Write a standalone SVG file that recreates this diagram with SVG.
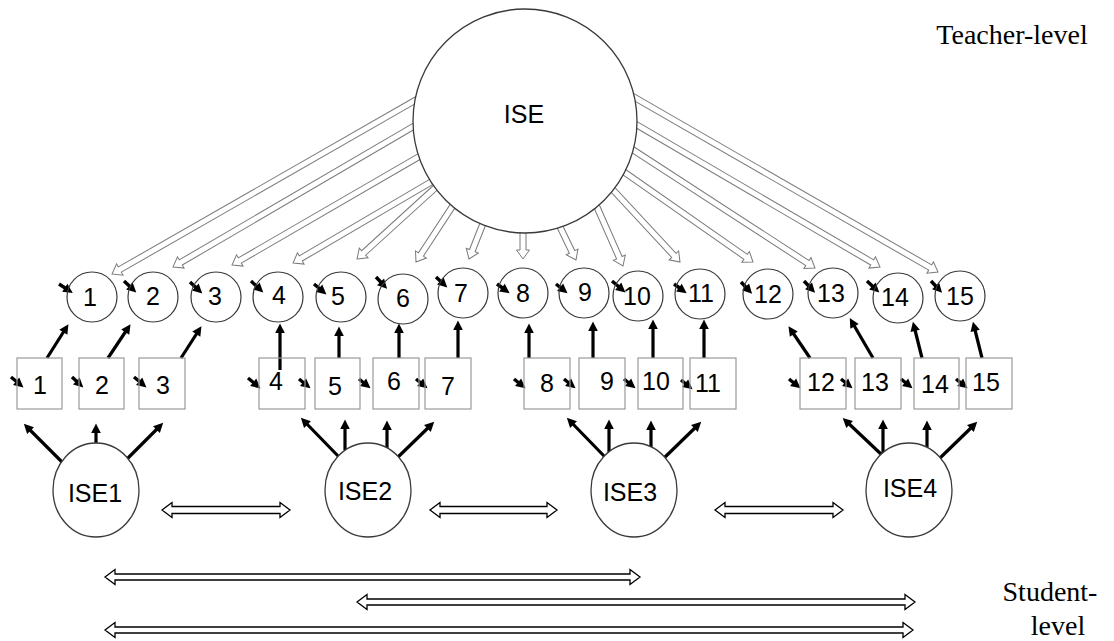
<svg xmlns="http://www.w3.org/2000/svg" width="1114" height="641" viewBox="0 0 1114 641">
  <style>
    .lbl { font-family: "Liberation Sans", Arial, sans-serif; font-size: 25px; fill: #000; text-anchor: middle; }
    .lvl { font-family: "Liberation Serif", "Times New Roman", serif; font-size: 28px; fill: #000; text-anchor: middle; }
    .circ { fill: none; stroke: #3a3a3a; stroke-width: 1.2; }
    .box { fill: none; stroke: #9a9a9a; stroke-width: 1.2; }
    .lat { fill: #fff; stroke: #3a3a3a; stroke-width: 1.3; }
    .blk { stroke: #000; stroke-width: 3.2; fill: none; marker-end: url(#ah); }
    .res { stroke: #000; stroke-width: 3.4; fill: none; marker-end: url(#ah); }
    .hol { fill: #fff; stroke: #7a7a7a; stroke-width: 1; }
    .dbl { fill: #fff; stroke: #000; stroke-width: 1.3; }
  </style>
  <defs>
    <marker id="ah" markerUnits="userSpaceOnUse" viewBox="-7 -7 14 14" markerWidth="14" markerHeight="14" refX="0" refY="0" orient="auto" overflow="visible">
      <path d="M-5,-4.8 L4.5,0 L-5,4.8 Z" fill="#000"/>
    </marker>
  </defs>
  <rect width="1114" height="641" fill="#fff"/>

  <!-- connectors -->
  <g id="connectors">
    <!-- teacher-level loadings: hollow block arrows -->
    <g id="teacher-loadings">
      <path class="hol" transform="translate(112,274) rotate(150.2)" d="M0,0 L-9,-6.5 L-9,-3 L-356,-3 L-356,3 L-9,3 L-9,6.5 Z"/>
      <path class="hol" transform="translate(173,267) rotate(149.7)" d="M0,0 L-9,-6.5 L-9,-3 L-284,-3 L-284,3 L-9,3 L-9,6.5 Z"/>
      <path class="hol" transform="translate(232,265) rotate(149.9)" d="M0,0 L-9,-6.5 L-9,-3 L-221,-3 L-221,3 L-9,3 L-9,6.5 Z"/>
      <path class="hol" transform="translate(293,263) rotate(149.6)" d="M0,0 L-9,-6.5 L-9,-3 L-166,-3 L-166,3 L-9,3 L-9,6.5 Z"/>
      <path class="hol" transform="translate(357,259) rotate(137.7)" d="M0,0 L-9,-6.5 L-9,-3 L-111,-3 L-111,3 L-9,3 L-9,6.5 Z"/>
      <path class="hol" transform="translate(416,262) rotate(123.2)" d="M0,0 L-9,-6.5 L-9,-3 L-72,-3 L-72,3 L-9,3 L-9,6.5 Z"/>
      <path class="hol" transform="translate(469,259) rotate(111.5)" d="M0,0 L-9,-6.5 L-9,-3 L-41,-3 L-41,3 L-9,3 L-9,6.5 Z"/>
      <path class="hol" transform="translate(523,259) rotate(90)" d="M0,0 L-9,-6.5 L-9,-3 L-32,-3 L-32,3 L-9,3 L-9,6.5 Z"/>
      <path class="hol" transform="translate(576,260) rotate(64.2)" d="M0,0 L-9,-6.5 L-9,-3 L-40,-3 L-40,3 L-9,3 L-9,6.5 Z"/>
      <path class="hol" transform="translate(623,266) rotate(66.2)" d="M0,0 L-9,-6.5 L-9,-3 L-70,-3 L-70,3 L-9,3 L-9,6.5 Z"/>
      <path class="hol" transform="translate(680,262) rotate(47.1)" d="M0,0 L-9,-6.5 L-9,-3 L-104,-3 L-104,3 L-9,3 L-9,6.5 Z"/>
      <path class="hol" transform="translate(753,262) rotate(34.9)" d="M0,0 L-9,-6.5 L-9,-3 L-163,-3 L-163,3 L-9,3 L-9,6.5 Z"/>
      <path class="hol" transform="translate(815,268) rotate(33.0)" d="M0,0 L-9,-6.5 L-9,-3 L-223,-3 L-223,3 L-9,3 L-9,6.5 Z"/>
      <path class="hol" transform="translate(880,267) rotate(30.3)" d="M0,0 L-9,-6.5 L-9,-3 L-288,-3 L-288,3 L-9,3 L-9,6.5 Z"/>
      <path class="hol" transform="translate(938,272) rotate(29.9)" d="M0,0 L-9,-6.5 L-9,-3 L-355,-3 L-355,3 L-9,3 L-9,6.5 Z"/>
    </g>

    <!-- residual arrows on teacher-level indicators -->
    <g id="teacher-residuals">
      <line class="res" x1="59" y1="284" x2="69" y2="290.5"/>
      <line class="res" x1="124" y1="281" x2="133" y2="289.5"/>
      <line class="res" x1="190" y1="282" x2="199" y2="290.5"/>
      <line class="res" x1="251" y1="281" x2="260" y2="289.5"/>
      <line class="res" x1="314" y1="284" x2="323" y2="291.5"/>
      <line class="res" x1="376" y1="277" x2="384" y2="285.5"/>
      <line class="res" x1="436" y1="277" x2="444" y2="284.5"/>
      <line class="res" x1="497" y1="284" x2="506" y2="290.5"/>
      <line class="res" x1="556" y1="284" x2="564" y2="290.5"/>
      <line class="res" x1="612" y1="281" x2="622" y2="289.5"/>
      <line class="res" x1="674" y1="284" x2="683" y2="290.5"/>
      <line class="res" x1="741" y1="282" x2="749" y2="290.5"/>
      <line class="res" x1="804" y1="281" x2="812" y2="289.5"/>
      <line class="res" x1="867" y1="281" x2="876" y2="289.5"/>
      <line class="res" x1="931" y1="281" x2="939" y2="289.5"/>
    </g>

    <!-- item to teacher-level indicator -->
    <g id="item-links">
      <line class="blk" x1="47" y1="358" x2="66" y2="328"/>
      <line class="blk" x1="108" y1="358" x2="128" y2="328"/>
      <line class="blk" x1="181" y1="358" x2="199" y2="330"/>
      <line class="blk" x1="280" y1="370" x2="280" y2="328"/>
      <line class="blk" x1="339" y1="358" x2="339" y2="331"/>
      <line class="blk" x1="399" y1="358" x2="399" y2="328"/>
      <line class="blk" x1="458" y1="358" x2="458" y2="325"/>
      <line class="blk" x1="529" y1="358" x2="529" y2="328"/>
      <line class="blk" x1="593" y1="358" x2="593" y2="326"/>
      <line class="blk" x1="653" y1="358" x2="653" y2="324"/>
      <line class="blk" x1="704" y1="358" x2="704" y2="324"/>
      <line class="blk" x1="810" y1="358" x2="791" y2="330"/>
      <line class="blk" x1="873" y1="358" x2="852" y2="322"/>
      <line class="blk" x1="922" y1="358" x2="914" y2="326"/>
      <line class="blk" x1="982" y1="358" x2="974" y2="326"/>
    </g>

    <!-- residual arrows on items -->
    <g id="item-residuals">
      <line class="res" x1="11" y1="377" x2="20" y2="384.5"/>
      <line class="res" x1="72" y1="377" x2="80" y2="384.5"/>
      <line class="res" x1="134" y1="377" x2="143" y2="384.5"/>
      <line class="res" x1="248" y1="378" x2="257" y2="385.5"/>
      <line class="res" x1="299" y1="379" x2="307" y2="385.5"/>
      <line class="res" x1="359" y1="379" x2="367" y2="385.5"/>
      <line class="res" x1="416" y1="379" x2="424" y2="385.5"/>
      <line class="res" x1="514" y1="379" x2="522" y2="385.5"/>
      <line class="res" x1="564" y1="379" x2="572" y2="385.5"/>
      <line class="res" x1="624" y1="379" x2="632" y2="385.5"/>
      <line class="res" x1="681" y1="380" x2="689" y2="386.5"/>
      <line class="res" x1="789" y1="379" x2="797" y2="385.5"/>
      <line class="res" x1="841" y1="379" x2="849" y2="385.5"/>
      <line class="res" x1="901" y1="379" x2="909" y2="385.5"/>
      <line class="res" x1="956" y1="379" x2="964" y2="385.5"/>
    </g>

    <!-- student-level factor loadings -->
    <g id="factor-loadings">
      <line class="blk" x1="63" y1="463" x2="27" y2="427"/>
      <line class="blk" x1="96" y1="443" x2="96" y2="428"/>
      <line class="blk" x1="127" y1="459" x2="160" y2="426"/>

      <line class="blk" x1="339" y1="457" x2="304" y2="421"/>
      <line class="blk" x1="345" y1="450" x2="345" y2="424"/>
      <line class="blk" x1="387" y1="448" x2="387" y2="425"/>
      <line class="blk" x1="397" y1="458" x2="431" y2="425"/>

      <line class="blk" x1="605" y1="457" x2="570" y2="421"/>
      <line class="blk" x1="609" y1="453" x2="609" y2="424"/>
      <line class="blk" x1="651" y1="450" x2="651" y2="425"/>
      <line class="blk" x1="663" y1="459" x2="698" y2="425"/>

      <line class="blk" x1="882" y1="455" x2="846" y2="421"/>
      <line class="blk" x1="883" y1="453" x2="883" y2="424"/>
      <line class="blk" x1="927" y1="447" x2="927" y2="425"/>
      <line class="blk" x1="940" y1="458" x2="974" y2="425"/>
    </g>

    <!-- factor covariances: hollow double-headed arrows -->
    <g id="covariances">
      <path class="dbl" d="M162,510 L172,502.5 L172,506.5 L280,506.5 L280,502.5 L290,510 L280,517.5 L280,513.5 L172,513.5 L172,517.5 Z"/>
      <path class="dbl" d="M430,510 L440,502.5 L440,506.5 L547,506.5 L547,502.5 L557,510 L547,517.5 L547,513.5 L440,513.5 L440,517.5 Z"/>
      <path class="dbl" d="M715,510 L725,502.5 L725,506.5 L833,506.5 L833,502.5 L843,510 L833,517.5 L833,513.5 L725,513.5 L725,517.5 Z"/>
      <path class="dbl" d="M105,577 L115,569.5 L115,574 L630,574 L630,569.5 L640,577 L630,584.5 L630,580 L115,580 L115,584.5 Z"/>
      <path class="dbl" d="M357,602 L367,594.5 L367,599 L905,599 L905,594.5 L915,602 L905,609.5 L905,605 L367,605 L367,609.5 Z"/>
      <path class="dbl" d="M105,630 L115,622.5 L115,627 L903,627 L903,622.5 L913,630 L903,637.5 L903,633 L115,633 L115,637.5 Z"/>
    </g>
  </g>

  <!-- teacher-level factor -->
  <g id="ISE">
    <circle class="lat" cx="525" cy="121" r="112"/>
    <text class="lbl" x="524" y="123">ISE</text>
  </g>

  <!-- teacher-level indicators -->
  <g id="t1"><circle class="circ" cx="92" cy="297" r="25"/><text class="lbl" x="90" y="306">1</text></g>
  <g id="t2"><circle class="circ" cx="153" cy="297" r="25"/><text class="lbl" x="153" y="305">2</text></g>
  <g id="t3"><circle class="circ" cx="216" cy="297" r="25"/><text class="lbl" x="215" y="305">3</text></g>
  <g id="t4"><circle class="circ" cx="278" cy="297" r="25"/><text class="lbl" x="279" y="304">4</text></g>
  <g id="t5"><circle class="circ" cx="341" cy="297" r="25"/><text class="lbl" x="338" y="305">5</text></g>
  <g id="t6"><circle class="circ" cx="403" cy="299" r="25"/><text class="lbl" x="403" y="307">6</text></g>
  <g id="t7"><circle class="circ" cx="463" cy="293" r="25"/><text class="lbl" x="461" y="302">7</text></g>
  <g id="t8"><circle class="circ" cx="523" cy="293" r="25"/><text class="lbl" x="523" y="302">8</text></g>
  <g id="t9"><circle class="circ" cx="584" cy="293" r="25"/><text class="lbl" x="585" y="301">9</text></g>
  <g id="t10"><circle class="circ" cx="638" cy="296" r="25"/><text class="lbl" x="637" y="305">10</text></g>
  <g id="t11"><circle class="circ" cx="700" cy="294" r="25"/><text class="lbl" x="701" y="302">11</text></g>
  <g id="t12"><circle class="circ" cx="768" cy="294" r="25"/><text class="lbl" x="768" y="303">12</text></g>
  <g id="t13"><circle class="circ" cx="833" cy="293" r="25"/><text class="lbl" x="831" y="302">13</text></g>
  <g id="t14"><circle class="circ" cx="898" cy="298" r="25"/><text class="lbl" x="895" y="306">14</text></g>
  <g id="t15"><circle class="circ" cx="960" cy="296" r="25"/><text class="lbl" x="960" y="305">15</text></g>

  <!-- student-level items -->
  <g id="i1"><rect class="box" x="17" y="358" width="45" height="51"/><text class="lbl" x="40" y="394">1</text></g>
  <g id="i2"><rect class="box" x="79" y="358" width="45" height="51"/><text class="lbl" x="102" y="394">2</text></g>
  <g id="i3"><rect class="box" x="139" y="358" width="46" height="51"/><text class="lbl" x="163" y="394">3</text></g>
  <g id="i4"><rect class="box" x="259" y="358" width="46" height="51"/><text class="lbl" x="276" y="390">4</text></g>
  <g id="i5"><rect class="box" x="315" y="358" width="45" height="51"/><text class="lbl" x="335" y="395">5</text></g>
  <g id="i6"><rect class="box" x="373" y="358" width="46" height="51"/><text class="lbl" x="394" y="390">6</text></g>
  <g id="i7"><rect class="box" x="425" y="358" width="46" height="51"/><text class="lbl" x="448" y="395">7</text></g>
  <g id="i8"><rect class="box" x="524" y="358" width="46" height="51"/><text class="lbl" x="547" y="392">8</text></g>
  <g id="i9"><rect class="box" x="579" y="358" width="46" height="51"/><text class="lbl" x="607" y="390">9</text></g>
  <g id="i10"><rect class="box" x="638" y="358" width="45" height="51"/><text class="lbl" x="656" y="390">10</text></g>
  <g id="i11"><rect class="box" x="690" y="358" width="46" height="51"/><text class="lbl" x="708" y="392">11</text></g>
  <g id="i12"><rect class="box" x="800" y="358" width="46" height="51"/><text class="lbl" x="821" y="391">12</text></g>
  <g id="i13"><rect class="box" x="855" y="358" width="46" height="51"/><text class="lbl" x="875" y="391">13</text></g>
  <g id="i14"><rect class="box" x="914" y="358" width="45" height="51"/><text class="lbl" x="935" y="393">14</text></g>
  <g id="i15"><rect class="box" x="966" y="358" width="46" height="51"/><text class="lbl" x="986" y="391">15</text></g>

  <!-- student-level factors -->
  <g id="ISE1"><ellipse class="lat" cx="96" cy="490" rx="43" ry="47"/><text class="lbl" x="95" y="502">ISE1</text></g>
  <g id="ISE2"><ellipse class="lat" cx="368" cy="490" rx="43" ry="47"/><text class="lbl" x="365" y="500">ISE2</text></g>
  <g id="ISE3"><ellipse class="lat" cx="634" cy="490" rx="43" ry="47"/><text class="lbl" x="630" y="501">ISE3</text></g>
  <g id="ISE4"><ellipse class="lat" cx="909" cy="490" rx="43" ry="47"/><text class="lbl" x="910" y="497">ISE4</text></g>

  <!-- level captions -->
  <text class="lvl" x="1012" y="44">Teacher-level</text>
  <text class="lvl" x="1050" y="601">Student-</text>
  <text class="lvl" x="1058" y="635">level</text>
</svg>
